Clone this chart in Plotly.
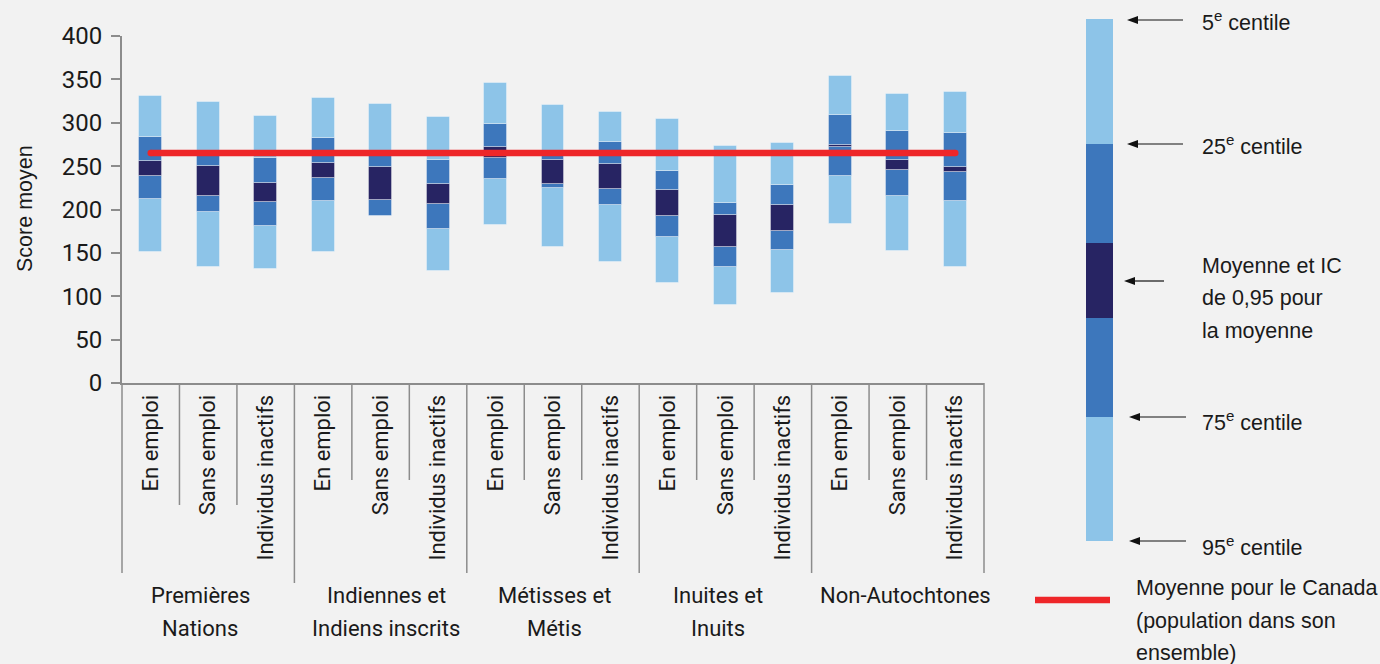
import plotly.graph_objects as go

# ---------------- data ----------------
groupes = ["Premières<br>Nations", "Indiennes et<br>Indiens inscrits", "Métisses et<br>Métis",
           "Inuites et<br>Inuits", "Non-Autochtones"]
situations = ["En emploi", "Sans emploi", "Individus inactifs"]
categories = [s for g in groupes for s in situations]

# bottom -> top boundaries of each stacked bar
centile_95 = [151, 134, 131, 150.5, 192, 129.5, 182, 157, 140, 115.5, 90, 104, 183.5, 152, 134]
centile_75 = [212, 197, 181, 210, 192, 178, 235, 225, 205.5, 168, 133.5, 153, 239, 216, 209.5]
ic_bas     = [238.5, 215, 209, 236, 211, 206, 259.5, 229.5, 223.5, 192.5, 157, 175, 271.5, 245.5, 243]
ic_haut    = [256, 250, 230.5, 254, 249.5, 229, 272.5, 257, 253, 223, 194, 205.5, 274, 257.5, 249.5]
centile_25 = [284, 264, 259, 282, 263, 257, 298, 263, 278, 244, 208, 228, 309, 290, 288.5]
centile_5  = [331, 324, 308, 328, 322, 307, 345.5, 320, 312, 304, 273, 277, 354, 333, 335]
moyenne_canada = 265

y_ticks = [0, 50, 100, 150, 200, 250, 300, 350, 400]

# ---------------- style ----------------
LIGHT = "#8DC4E8"
MID = "#3D77BC"
DARK = "#272463"
RED = "#EE2629"
BG = "#F2F2F2"
AXIS = "#8C8C8C"
TXT = "#1a1a1a"
NARROW = "Roboto, Liberation Sans, sans-serif"
REG = "Liberation Sans, Arial, Helvetica, sans-serif"

W, H = 1380, 664
L, R, T, B = 122, 984, 36, 383  # plot area in pixels


def px(xp):
    return (xp - L) / (R - L)


def py(yp):
    return (B - yp) / (B - T)


n = len(categories)
xs = list(range(n))
bounds = [centile_95, centile_75, ic_bas, ic_haut, centile_25, centile_5]
colors = [LIGHT, MID, DARK, MID, LIGHT]

fig = go.Figure()
for k, col in enumerate(colors):
    lo = bounds[k]
    hi = bounds[k + 1]
    fig.add_trace(go.Bar(
        x=xs, y=[h - l for h, l in zip(hi, lo)], base=lo, width=0.4,
        marker=dict(color=col, line=dict(color="rgba(255,255,255,0.35)", width=1)),
        showlegend=False, hoverinfo="skip"))

fig.add_trace(go.Scatter(
    x=[xs[0], xs[-1]], y=[moyenne_canada, moyenne_canada], mode="lines+markers",
    line=dict(color=RED, width=6.5), marker=dict(color=RED, size=6.5),
    showlegend=False, hoverinfo="skip"))

shapes = []
# dividers under the category axis
for k in range(n + 1):
    if k % 3 == 0:
        ybot = 583 if k == 3 else 573
    else:
        ybot = 505 if k < 3 else 480
    xpap = k / n
    shapes.append(dict(type="line", xref="paper", yref="paper", x0=xpap, x1=xpap,
                       y0=0, y1=py(ybot), line=dict(color=AXIS, width=1.5)))

# legend bar on the right
seg_y = [19, 144, 243, 318, 417, 541]
seg_c = [LIGHT, MID, DARK, MID, LIGHT]
for k, col in enumerate(seg_c):
    shapes.append(dict(type="rect", xref="paper", yref="paper", x0=px(1086), x1=px(1113),
                       y0=py(seg_y[k + 1]), y1=py(seg_y[k]), fillcolor=col,
                       line=dict(width=0)))
# red legend line
shapes.append(dict(type="line", xref="paper", yref="paper", x0=px(1035), x1=px(1110),
                   y0=py(600), y1=py(600), line=dict(color=RED, width=6.5)))

# legend arrows (line + filled head)
arrows = [(1127, 1183, 20), (1127, 1183, 144), (1124, 1164, 281), (1129, 1186, 417), (1129, 1186, 541)]
for xh, xt, ya in arrows:
    shapes.append(dict(type="line", xref="paper", yref="paper", x0=px(xh + 8), x1=px(xt),
                       y0=py(ya), y1=py(ya), line=dict(color="#111111", width=1.2)))
    path = "M {} {} L {} {} L {} {} Z".format(px(xh), py(ya), px(xh + 11), py(ya - 4),
                                             px(xh + 11), py(ya + 4))
    shapes.append(dict(type="path", xref="paper", yref="paper", path=path,
                       fillcolor="#111111", line=dict(width=0)))

annotations = []
# group labels
grp_x = [200, 386, 554, 718, 905]
for g, xg in zip(groupes, grp_x):
    for j, line in enumerate(g.split("<br>")):
        annotations.append(dict(x=px(xg), y=py(595 + 33 * j), xref="paper", yref="paper",
                                text=line, showarrow=False, xanchor="center", yanchor="middle",
                                font=dict(family=NARROW, size=22, color=TXT)))

# y-axis title
annotations.append(dict(x=px(25), y=py(209), xref="paper", yref="paper", text="Score moyen",
                        textangle=-90, showarrow=False, xanchor="center", yanchor="middle",
                        font=dict(family=REG, size=21.5, color=TXT)))

legend_texts = [("5<sup>e</sup> centile", 21), ("25<sup>e</sup> centile", 145),
                ("Moyenne et IC", 266), ("de 0,95 pour", 298), ("la moyenne", 331),
                ("75<sup>e</sup> centile", 421), ("95<sup>e</sup> centile", 546)]
for txt, yt in legend_texts:
    annotations.append(dict(x=px(1200), y=py(yt), xref="paper", yref="paper", text=txt,
                            showarrow=False, xanchor="left", yanchor="middle",
                            font=dict(family=REG, size=21.5, color=TXT)))

for txt, yt in [("Moyenne pour le Canada", 588), ("(population dans son", 621), ("ensemble)", 653)]:
    annotations.append(dict(x=px(1134), y=py(yt), xref="paper", yref="paper", text=txt,
                            showarrow=False, xanchor="left", yanchor="middle",
                            font=dict(family=REG, size=21.5, color=TXT)))

fig.update_layout(
    width=W, height=H, autosize=False,
    margin=dict(l=L, r=W - R, t=T, b=H - B, pad=0),
    paper_bgcolor=BG, plot_bgcolor=BG,
    barmode="overlay", bargap=0,
    shapes=shapes, annotations=annotations,
    xaxis=dict(range=[-0.5, n - 0.5], tickmode="array", tickvals=xs, ticktext=categories,
               tickangle=-90, ticks="", showline=True, linecolor=AXIS, linewidth=2,
               showgrid=False, zeroline=False, fixedrange=True, ticklabelstandoff=1,
               tickfont=dict(family=NARROW, size=22, color=TXT)),
    yaxis=dict(range=[0, 400], tickmode="array", tickvals=y_ticks, ticks="outside",
               ticklen=9, tickwidth=1.5, tickcolor=AXIS, showline=True, linecolor=AXIS,
               linewidth=2, showgrid=False, zeroline=False, fixedrange=True,
               ticklabelstandoff=4,
               tickfont=dict(family=NARROW, size=24, color=TXT)),
)

fig.write_html("out.html", config={"displayModeBar": False},
               post_script="document.body.style.margin='0px';")
